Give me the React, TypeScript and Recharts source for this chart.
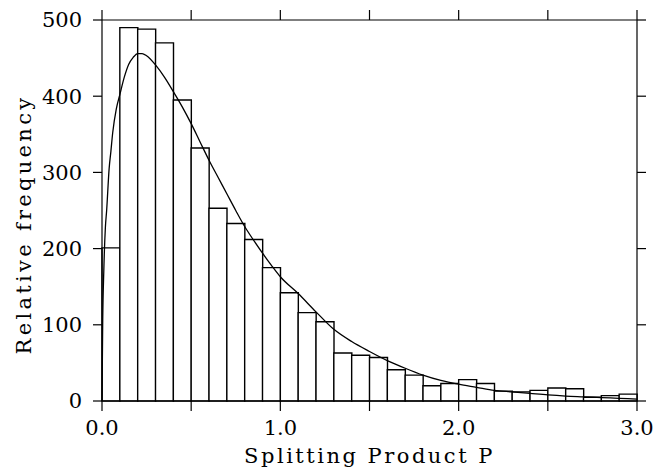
import { ComposedChart, Bar, Line, XAxis, YAxis, Label } from "recharts";

const FONT = "'DejaVu Serif', 'Liberation Serif', serif";

// histogram: bin centres (width 0.1) and counts
const binCenters = [
  0.05, 0.15, 0.25, 0.35, 0.45, 0.55, 0.65, 0.75, 0.85, 0.95,
  1.05, 1.15, 1.25, 1.35, 1.45, 1.55, 1.65, 1.75, 1.85, 1.95,
  2.05, 2.15, 2.25, 2.35, 2.45, 2.55, 2.65, 2.75, 2.85, 2.95,
];
const binCounts = [
  201, 490, 488, 470, 395, 332, 253, 233, 212, 175,
  142, 116, 104, 63, 60, 57, 41, 34, 20, 23,
  28, 23, 13, 12, 14, 17, 16, 5, 7, 9,
];

// fitted curve
const fitP = [
  0, 0.004, 0.01, 0.019, 0.026, 0.04, 0.05, 0.06, 0.08, 0.1,
  0.125, 0.15, 0.175, 0.2, 0.225, 0.25, 0.3, 0.35, 0.4, 0.45,
  0.5, 0.55, 0.6, 0.65, 0.7, 0.75, 0.8, 0.85, 0.9, 0.95,
  1.0, 1.1, 1.2, 1.3, 1.4, 1.5, 1.6, 1.7, 1.8, 1.9,
  2.0, 2.1, 2.2, 2.3, 2.4, 2.5, 2.6, 2.7, 2.8, 2.9, 3.0,
];
const fitValues = [
  0, 105, 170, 228, 250, 305, 328, 352, 383, 402,
  425, 442, 451, 456, 456, 453, 441, 425, 406, 386,
  364, 340, 316, 294, 272, 250, 229, 211, 194, 178,
  163, 141, 117, 94, 78, 65, 53, 43, 34, 27,
  22, 18, 14, 12, 10, 8, 6.5, 5.5, 4.5, 3.5, 2.5,
];

const xMajorTicks = [0, 0.5, 1, 1.5, 2, 2.5, 3];
const xLabelTicks = [0, 1, 2, 3];
const yTicks = [0, 100, 200, 300, 400, 500];

const bins = binCenters.map((p, i) => ({ p, count: binCounts[i] }));
const fit = fitP.map((p, i) => ({ p, value: fitValues[i] }));

function BottomTick({ x, y, payload }: any) {
  if (!xLabelTicks.includes(payload.value)) return <g />;
  return (
    <text x={x} y={y + 24} textAnchor="middle" fontFamily={FONT} fontSize={21} fill="#000">
      {payload.value.toFixed(1)}
    </text>
  );
}

const NoTick = () => <g />;

export default function App() {
  return (
    <div style={{ position: "absolute", left: 0, top: 0, background: "#fff" }}>
      <ComposedChart
        width={653}
        height={469}
        data={bins}
        margin={{ top: 10, right: 0, bottom: 0, left: 12 }}
        barCategoryGap={0}
        barGap={0}
      >
        <XAxis
          xAxisId="bottom"
          dataKey="p"
          type="number"
          domain={[0, 3]}
          ticks={xMajorTicks}
          orientation="bottom"
          height={68}
          tickSize={10}
          tickMargin={0}
          tick={<BottomTick />}
          stroke="#000"
          strokeWidth={1.2}
          interval={0}
        >
          <Label
            content={({ viewBox }: any) => (
              <text
                x={viewBox.x + viewBox.width / 2}
                y={viewBox.y + 62}
                textAnchor="middle"
                fontFamily={FONT}
                fontSize={21}
                letterSpacing={2.5}
                fill="#000"
              >
                Splitting Product P
              </text>
            )}
          />
        </XAxis>
        <XAxis
          xAxisId="top"
          dataKey="p"
          type="number"
          domain={[0, 3]}
          ticks={xMajorTicks}
          orientation="top"
          height={10}
          tickSize={10}
          tick={NoTick}
          stroke="#000"
          strokeWidth={1.2}
          interval={0}
        />
        <YAxis
          yAxisId="left"
          type="number"
          domain={[0, 500]}
          ticks={yTicks}
          width={90}
          tickSize={9}
          tickMargin={11}
          stroke="#000"
          strokeWidth={1.2}
          interval={0}
          tick={{ fontFamily: FONT, fontSize: 21, fill: "#000" }}
        >
          <Label
            content={({ viewBox }: any) => {
              const cx = viewBox.x + 19;
              const cy = viewBox.y + viewBox.height / 2 + 14;
              return (
                <text
                  x={cx}
                  y={cy}
                  transform={`rotate(-90, ${cx}, ${cy})`}
                  textAnchor="middle"
                  fontFamily={FONT}
                  fontSize={21}
                  letterSpacing={3.3}
                  fill="#000"
                >
                  Relative frequency
                </text>
              );
            }}
          />
        </YAxis>
        <YAxis
          yAxisId="right"
          type="number"
          domain={[0, 500]}
          ticks={yTicks}
          orientation="right"
          width={16}
          tickSize={9}
          tick={NoTick}
          stroke="#000"
          strokeWidth={1.2}
          interval={0}
        />
        <Bar
          xAxisId="bottom"
          yAxisId="left"
          dataKey="count"
          fill="#fff"
          stroke="#000"
          strokeWidth={1.4}
          isAnimationActive={false}
        />
        <Line
          xAxisId="top"
          yAxisId="right"
          data={fit}
          dataKey="value"
          type="monotone"
          stroke="#000"
          strokeWidth={1.3}
          dot={false}
          activeDot={false}
          isAnimationActive={false}
        />
      </ComposedChart>
    </div>
  );
}
